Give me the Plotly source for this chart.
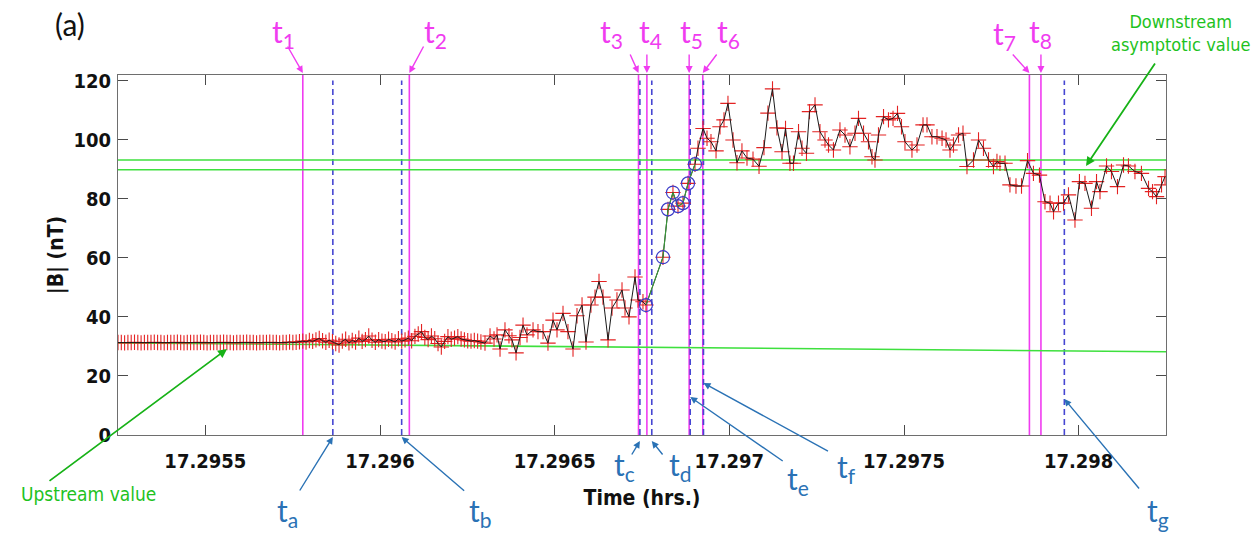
import plotly.graph_objects as go

# ---- time base -------------------------------------------------------------
T0_HR = 17.29525          # start of the window (hours)
SPAN_S = 10.8             # window length (seconds)
CADENCE_S = 0.034         # sample spacing of the early, densely sampled record


def hrs(sec):
    return T0_HR + sec / 3600.0


# ---- |B| record, early part (uniform cadence) -----------------------------
b_early = [
    31.3, 31.3, 31.2, 31.3, 31.3, 31.4, 31.3, 31.2, 31.3, 31.3,
    31.3, 31.4, 31.3, 31.3, 31.2, 31.3, 31.3, 31.3, 31.4, 31.3,
    31.2, 31.3, 31.3, 31.3, 31.3, 31.4, 31.3, 31.2, 31.3, 31.3,
    31.3, 31.3, 31.4, 31.3, 31.3, 31.2, 31.3, 31.3, 31.3, 31.4,
    31.3, 31.3, 31.2, 31.3, 31.3, 31.3, 31.4, 31.3, 31.3, 31.2,
    31.3, 31.3, 31.5, 31.3, 31.4, 31.6,
    31.8, 31.5, 32.0, 31.7, 32.2, 32.7, 31.9, 31.4, 32.1, 31.6,
    31.0, 30.5, 31.8, 32.4, 31.2, 32.0, 31.5, 32.8, 31.7, 32.3,
    33.5, 32.1, 31.4, 32.3, 31.8, 31.6, 32.4, 31.9, 31.5, 32.6,
    31.8, 32.2, 32.8, 31.9, 33.4, 34.2, 35.0, 33.0, 32.3, 33.5,
    32.6, 31.0, 29.8, 31.7, 33.3, 32.4, 32.8, 33.3, 32.5, 32.2,
    31.9, 31.8, 32.0, 31.8, 31.5,
]
t_early_s = [i * CADENCE_S for i in range(len(b_early))]

# ---- |B| record, later part (seconds after T0, nT) ------------------------
t_late_s = [
    3.782, 3.834, 3.875, 3.906, 3.937, 3.988, 4.029, 4.060, 4.102, 4.143,
    4.174, 4.215, 4.277, 4.328, 4.380, 4.431, 4.483, 4.524, 4.586, 4.637,
    4.689, 4.730, 4.782, 4.823, 4.874, 4.916, 4.957, 4.998, 5.050, 5.091,
    5.142, 5.194, 5.225, 5.266, 5.328, 5.359, 5.410, 5.441, 5.616, 5.668,
    5.719, 5.771, 5.822, 5.874, 5.946, 5.977, 6.029, 6.070, 6.111, 6.163,
    6.204, 6.245, 6.286, 6.338, 6.379, 6.430, 6.482, 6.544, 6.606, 6.657,
    6.698, 6.745, 6.791, 6.843, 6.879, 6.925, 6.961, 7.013, 7.049, 7.095,
    7.126, 7.183, 7.234, 7.286, 7.322, 7.373, 7.440, 7.492, 7.543, 7.595,
    7.631, 7.683, 7.734, 7.770, 7.801, 7.837, 7.889, 7.940, 7.987, 8.033,
    8.074, 8.110, 8.182, 8.234, 8.296, 8.337, 8.388, 8.440, 8.492, 8.533,
    8.574, 8.610, 8.662, 8.708, 8.749, 8.816, 8.868, 8.919, 8.971, 9.022,
    9.058, 9.089, 9.141, 9.192, 9.254, 9.311, 9.373, 9.434, 9.496, 9.553,
    9.605, 9.641, 9.692, 9.744, 9.795, 9.862, 9.908, 9.965, 10.032, 10.084,
    10.120, 10.187, 10.238, 10.300, 10.362, 10.413, 10.480, 10.547, 10.620, 10.661,
    10.702, 10.754, 10.790,
]
b_late = [
    31.1, 33.5, 32.5, 33.9, 29.1, 35.6, 33.6, 32.2, 27.8, 33.0,
    37.2, 33.9, 35.6, 35.0, 35.0, 31.1, 38.9, 35.6, 41.2, 35.0,
    29.1, 40.4, 44.0, 31.5, 44.0, 46.7, 52.0, 46.7, 32.2, 43.0,
    45.7, 49.1, 43.0, 40.0, 53.5, 45.7, 45.1, 44.0, 60.2, 76.4,
    82.1, 77.5, 78.5, 85.2, 91.7, 97.1, 103.8, 100.5, 99.3, 96.2,
    104.4, 106.7, 112.3, 99.9, 92.2, 96.2, 93.8, 93.4, 91.0, 97.3,
    109.0, 117.2, 104.0, 95.9, 103.8, 92.0, 92.0, 102.7, 97.1, 95.4,
    109.5, 111.8, 102.7, 99.9, 98.2, 96.5, 103.3, 101.6, 97.6, 102.2,
    107.2, 102.2, 99.3, 94.2, 93.1, 101.6, 107.8, 106.7, 107.2, 108.9,
    104.4, 99.3, 96.5, 98.2, 105.0, 105.0, 101.0, 101.0, 100.5, 99.9,
    96.5, 98.2, 101.6, 102.2, 90.9, 93.1, 99.9, 97.1, 93.1, 90.9,
    92.6, 92.0, 92.0, 84.7, 84.3, 84.3, 92.9, 88.6, 88.0, 79.0,
    78.5, 75.6, 78.5, 78.5, 81.3, 72.8, 85.8, 85.2, 76.8, 85.8,
    82.4, 91.1, 89.2, 84.1, 91.4, 91.1, 89.2, 88.6, 83.5, 82.4,
    80.7, 84.7, 87.5,
]

# ---- samples picked out across the ramp (circled) -------------------------
t_ramp_s = [5.441, 5.616, 5.668, 5.719, 5.771, 5.822, 5.874, 5.946]
b_ramp = [44.0, 60.2, 76.4, 82.1, 77.5, 78.5, 85.2, 91.7]

# ---- reference levels -----------------------------------------------------
upstream_b = [31.2, 28.2]          # at start / end of the window
downstream_b = [93.1, 89.8]

# ---- marked instants (hours) ----------------------------------------------
t_num = {"1": 17.295779, "2": 17.296084, "3": 17.296740, "4": 17.296764,
         "5": 17.296885, "6": 17.296924, "7": 17.297859, "8": 17.297892}
t_let = {"a": 17.295865, "b": 17.296062, "c": 17.296744, "d": 17.296778,
         "e": 17.296888, "f": 17.296926, "g": 17.297959}

x_ticks = [17.2955, 17.296, 17.2965, 17.297, 17.2975, 17.298]
x_ticktext = ["17.2955", "17.296", "17.2965", "17.297", "17.2975", "17.298"]
y_ticks = [0, 20, 40, 60, 80, 100, 120]

X_RANGE = [T0_HR, hrs(SPAN_S)]
Y_RANGE = [0, 121.9]

MAGENTA = "#f03cf0"
DASH_BLUE = "#4646d2"
LABEL_BLUE = "#2a72b5"
LINE_GREEN = "#3ee03e"
TEXT_GREEN = "#1ec21e"
ARROW_GREEN = "#17b217"

t_all = [hrs(s) for s in t_early_s] + [hrs(s) for s in t_late_s]
b_all = b_early + b_late

fig = go.Figure()

# reference levels
fig.add_trace(go.Scatter(x=X_RANGE, y=upstream_b, mode="lines",
                         line=dict(color=LINE_GREEN, width=1.6),
                         showlegend=False, hoverinfo="skip"))
for lvl in downstream_b:
    fig.add_trace(go.Scatter(x=X_RANGE, y=[lvl, lvl], mode="lines",
                             line=dict(color=LINE_GREEN, width=1.6),
                             showlegend=False, hoverinfo="skip"))

# vertical markers
for v in t_num.values():
    fig.add_shape(type="line", xref="x", yref="paper", x0=v, x1=v, y0=0, y1=1,
                  line=dict(color=MAGENTA, width=1.6), layer="below")
for v in t_let.values():
    fig.add_shape(type="line", xref="x", yref="y", x0=v, x1=v, y0=0, y1=120,
                  line=dict(color=DASH_BLUE, width=1.6, dash="6px,4px"),
                  layer="below")

# data: red crosses, black connecting line
fig.add_trace(go.Scatter(x=t_all, y=b_all, mode="markers",
                         marker=dict(symbol="cross-thin", size=11,
                                     line=dict(color="rgb(228,34,34)", width=1.1)),
                         showlegend=False))
fig.add_trace(go.Scatter(x=t_all, y=b_all, mode="lines",
                         line=dict(color="#1a1a1a", width=1),
                         showlegend=False))

# ramp samples
t_ramp = [hrs(s) for s in t_ramp_s]
fig.add_trace(go.Scatter(x=t_ramp, y=b_ramp, mode="lines",
                         line=dict(color="#3a9a3a", width=1.1),
                         showlegend=False))
fig.add_trace(go.Scatter(x=t_ramp, y=b_ramp, mode="markers",
                         marker=dict(symbol="circle-open", size=13, color="#3c3cc8",
                                     line=dict(color="#3c3cc8", width=1.2)),
                         showlegend=False))

# ---- annotation helpers (layout positions in pixels of the page) ----------
PLOT_L, PLOT_R, PLOT_T, PLOT_B = 118, 1166, 75, 435


def px(X):
    return (X - PLOT_L) / (PLOT_R - PLOT_L)


def py(Y):
    return (PLOT_B - Y) / (PLOT_B - PLOT_T)


LABEL_FONT = "Lato, Open Sans, sans-serif"
NARROW_FONT = "DejaVu Sans Condensed, Liberation Sans, Arial, sans-serif"

anns = []


def arrow(xval, xref, tip_y, ax, ay, color, width=1.4):
    anns.append(dict(x=xval, xref=xref, y=tip_y, yref="paper", text="",
                     showarrow=True, ax=ax, ay=ay, arrowhead=2, arrowsize=1,
                     arrowwidth=width, arrowcolor=color, standoff=0))


def label(X, Y, text, color, size, family=LABEL_FONT):
    anns.append(dict(x=px(X), xref="paper", y=py(Y), yref="paper", text=text,
                     showarrow=False, font=dict(family=family, size=size, color=color),
                     xanchor="center", yanchor="middle"))


# numbered instants (top)
num_layout = {
    "1": ((283, 33), (-16, -28)),
    "2": ((435, 33), (15, -28)),
    "3": ((611, 33), (-9, -20)),
    "4": ((651, 33), (0, -20)),
    "5": ((691, 33), (0, -20)),
    "6": ((728, 33), (15, -20)),
    "7": ((1004, 35), (-18, -20)),
    "8": ((1040, 33), (0, -20)),
}
for k, ((tx, ty), (ax, ay)) in num_layout.items():
    arrow(t_num[k], "x", py(73), ax, ay, MAGENTA)
    label(tx, ty, f"t<sub>{k}</sub>", MAGENTA, 30)

# lettered instants (bottom)
let_layout = {
    "a": ((287, 512), 437, (-34, 55)),
    "b": ((480, 512), 437, (64, 55)),
    "c": ((624, 466), 441, (-9, 15)),
    "d": ((680, 466), 441, (12, 15)),
    "e": ((798, 480), 397, (94, 65)),
    "f": ((846, 468), 383, (126, 69)),
    "g": ((1158, 512), 399, (76, 91)),
}
for k, ((tx, ty), tipY, (ax, ay)) in let_layout.items():
    arrow(t_let[k], "x", py(tipY), ax, ay, LABEL_BLUE)
    label(tx, ty, f"t<sub>{k}</sub>", LABEL_BLUE, 30)

# level call-outs
arrow(px(227), "paper", py(349), -179, 133, ARROW_GREEN, 1.8)
label(88, 494, "Upstream value", TEXT_GREEN, 19, NARROW_FONT)
arrow(px(1086), "paper", py(166), 70, -104, ARROW_GREEN, 1.8)
label(1180, 33, "Downstream<br>asymptotic value", TEXT_GREEN, 18, NARROW_FONT)

label(70, 24, "(a)", "#111111", 30)

tick_font = dict(family=NARROW_FONT, size=20, color="#111111", weight="bold")
axis_common = dict(showline=True, linecolor="#6e6e6e", linewidth=1, mirror="ticks",
                   ticks="inside", ticklen=10, tickcolor="#4a4a4a", tickwidth=1,
                   showgrid=False, zeroline=False, tickfont=tick_font)

fig.update_layout(
    width=1252, height=535,
    margin=dict(l=PLOT_L, r=1252 - PLOT_R, t=PLOT_T, b=535 - PLOT_B),
    paper_bgcolor="white", plot_bgcolor="white",
    showlegend=False,
    annotations=anns,
    xaxis=dict(range=X_RANGE, tickvals=x_ticks, ticktext=x_ticktext,
               ticklabelstandoff=8,
               title=dict(text="Time (hrs.)", standoff=18,
                          font=dict(family=NARROW_FONT, size=21, color="#111111",
                                    weight="bold")),
               **axis_common),
    yaxis=dict(range=Y_RANGE, tickvals=y_ticks, ticklabelstandoff=2,
               title=dict(text="|B| (nT)", standoff=4,
                          font=dict(family=NARROW_FONT, size=21, color="#111111",
                                    weight="bold")),
               **axis_common),
)

fig.write_html("out.html")
